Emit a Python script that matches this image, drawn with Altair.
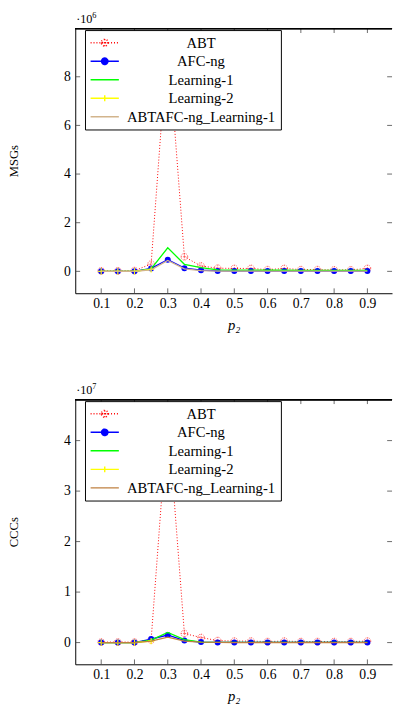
import altair as alt
import pandas as pd

# ---------------- data ----------------
x_vals = [0.1, 0.15, 0.2, 0.25, 0.3, 0.35, 0.4, 0.45, 0.5, 0.55, 0.6, 0.65, 0.7, 0.75, 0.8, 0.85, 0.9]
series_names = ["ABT", "AFC-ng", "Learning-1", "Learning-2", "ABTAFC-ng_Learning-1"]

# MSGs (raw counts)
msg_abt = [20000, 20000, 30000, 300000, 9600000, 600000, 220000, 130000, 120000, 120000,
           70000, 120000, 70000, 70000, 60000, 60000, 120000]
msg_afc = [0, 0, 0, 120000, 480000, 130000, 50000, 15000, 10000, 10000,
           10000, 10000, 10000, 10000, 10000, 10000, 10000]
msg_l1 = [0, 0, 0, 100000, 970000, 290000, 150000, 60000, 50000, 50000,
          45000, 45000, 40000, 40000, 40000, 40000, 40000]
msg_l2 = [0, 0, 0, 80000]
msg_combo = [0, 0, 0, 60000, 450000, 100000, 30000, 10000, 5000, 5000,
             5000, 5000, 5000, 5000, 5000, 5000, 5000]

# CCCs (raw counts)
ccc_abt = [100000, 100000, 100000, 500000, 45000000, 1800000, 1000000, 400000, 300000, 300000,
           200000, 300000, 200000, 200000, 200000, 200000, 300000]
ccc_afc = [0, 0, 0, 700000, 1500000, 400000, 100000, 20000, 20000, 20000,
           20000, 20000, 20000, 20000, 20000, 20000, 20000]
ccc_l1 = [0, 0, 0, 500000, 2000000, 600000, 100000, 50000, 40000, 40000,
          40000, 40000, 40000, 40000, 40000, 40000, 40000]
ccc_l2 = [0, 0, 0, 300000]
ccc_combo = [0, 0, 0, 300000, 1100000, 300000, 100000, 20000, 10000, 10000,
             10000, 10000, 10000, 10000, 10000, 10000, 10000]

x_ticks = [0.1, 0.2, 0.3, 0.4, 0.5, 0.6, 0.7, 0.8, 0.9]
msg_ticks = [0, 2000000, 4000000, 6000000, 8000000]
ccc_ticks = [0, 10000000, 20000000, 30000000, 40000000]

# ---------------- style ----------------
FONT = "Liberation Serif"
W, H = 325, 272
XDOM = [0.022, 0.974]
RED, BLUE, GREEN, YELLOW = "#ff0000", "#0000ff", "#00ff00", "#ffff00"
TICK = "#444444"


def circ(cx, r):
    k = 0.5523 * r
    return (f"M{cx + r},0C{cx + r},{k} {cx + k},{r} {cx},{r}"
            f"C{cx - k},{r} {cx - r},{k} {cx - r},0"
            f"C{cx - r},{-k} {cx - k},{-r} {cx},{-r}"
            f"C{cx + k},{-r} {cx + r},{-k} {cx + r},0Z")


LINE = "M-1,0L3,0"
legend_paths = [
    LINE + circ(1, 0.48) + "M0.52,0L1.48,0M1,-0.48L1,0.48",
    LINE + circ(1, 0.45) + circ(1, 0.32) + circ(1, 0.19) + circ(1, 0.07),
    LINE,
    LINE + "M1,-0.42L1,0.42",
    LINE,
]
legend_dash = [[1, 2], [1, 0], [1, 0], [1, 0], [1, 0]]

ABT_MARK = circ(0, 1) + "M-1,0L1,0M0,-1L0,1"
PLUS_MARK = "M-1,0L1,0M0,-1L0,1"


def panel(data, ydom, yticks, ytitle, divisor, exp_txt, combo_color):
    xs = alt.Scale(domain=XDOM, nice=False, zero=False)
    ys = alt.Scale(domain=ydom, nice=False, zero=False)
    fr = {n: pd.DataFrame({"p2": x_vals[:len(v)], "v": v}) for n, v in zip(series_names, data)}

    xa = alt.Axis(values=x_ticks, format=".1f", title="p₂", ticks=False, tickSize=0,
                  domainColor="black", domainWidth=1, labelFont=FONT, labelFontSize=14,
                  labelColor="black", labelPadding=4, titleFont=FONT, titleFontSize=15,
                  titleFontStyle="italic", titleFontWeight="normal", titleColor="black",
                  titlePadding=7, grid=False)
    ya = alt.Axis(values=yticks, labelExpr=f"datum.value / {divisor}", title=ytitle,
                  ticks=False, tickSize=0, domainColor="black", domainWidth=1,
                  labelFont=FONT, labelFontSize=14, labelColor="black", labelPadding=5,
                  titleFont=FONT, titleFontSize=13, titleFontWeight="normal",
                  titleColor="black", titlePadding=44, grid=False)
    X = alt.X("p2:Q", scale=xs, axis=xa)
    Y = alt.Y("v:Q", scale=ys, axis=ya)

    def xy(ch):
        return ch.encode(x=X, y=Y)

    layers = [
        xy(alt.Chart(fr["ABT"]).mark_line(color=RED, strokeDash=[1, 2], strokeWidth=1)),
        xy(alt.Chart(fr["ABT"]).mark_point(shape=ABT_MARK, filled=False, color=RED, size=49,
                                           strokeWidth=0.7, strokeDash=[1, 1], opacity=0.8)),
        xy(alt.Chart(fr["AFC-ng"]).mark_line(color=BLUE, strokeWidth=1.3)),
        xy(alt.Chart(fr["AFC-ng"]).mark_point(shape="circle", filled=True, color=BLUE,
                                              size=38, opacity=1)),
        xy(alt.Chart(fr["Learning-1"]).mark_line(color=GREEN, strokeWidth=1.3)),
        xy(alt.Chart(fr["Learning-2"]).mark_line(color=YELLOW, strokeWidth=1.3)),
        xy(alt.Chart(fr["Learning-2"]).mark_point(shape=PLUS_MARK, filled=False, color=YELLOW,
                                                  size=40, strokeWidth=1.2, opacity=1)),
        xy(alt.Chart(fr["ABTAFC-ng_Learning-1"]).mark_line(color=combo_color, strokeWidth=1.3)),
    ]

    xt = pd.DataFrame({"p2": x_ticks})
    yt = pd.DataFrame({"v": yticks})
    layers += [
        alt.Chart(xt).mark_rule(color=TICK, strokeWidth=0.8).encode(x=X, y=alt.value(H), y2=alt.value(H - 5)),
        alt.Chart(xt).mark_rule(color=TICK, strokeWidth=0.8).encode(x=X, y=alt.value(0), y2=alt.value(5)),
        alt.Chart(yt).mark_rule(color=TICK, strokeWidth=0.8).encode(y=Y, x=alt.value(0), x2=alt.value(5)),
        alt.Chart(yt).mark_rule(color=TICK, strokeWidth=0.8).encode(y=Y, x=alt.value(W), x2=alt.value(W - 5)),
        alt.Chart(xt).mark_rule(color="black", strokeWidth=1).encode(
            x=alt.value(0), x2=alt.value(W), y=alt.value(0.5)),
        alt.Chart(pd.DataFrame({"t": ["·10"]})).mark_text(
            align="left", baseline="alphabetic", font=FONT, fontSize=12.5, color="black"
        ).encode(text="t:N", x=alt.value(1), y=alt.value(-5)),
        alt.Chart(pd.DataFrame({"t": [exp_txt]})).mark_text(
            align="left", baseline="alphabetic", font=FONT, fontSize=8.5, color="black"
        ).encode(text="t:N", x=alt.value(17.5), y=alt.value(-10)),
    ]

    colors = [RED, BLUE, GREEN, YELLOW, combo_color]
    leg = alt.Legend(title=None, orient="none", legendX=10, legendY=2, labelAlign="center",
                     labelOffset=98, zindex=1)
    carrier = alt.Chart(pd.DataFrame({"series": series_names})).transform_filter("false").mark_point(
        filled=False, opacity=1
    ).encode(
        color=alt.Color("series:N", scale=alt.Scale(domain=series_names, range=colors), legend=leg),
        shape=alt.Shape("series:N", scale=alt.Scale(domain=series_names, range=legend_paths), legend=leg),
        strokeDash=alt.StrokeDash("series:N", scale=alt.Scale(domain=series_names, range=legend_dash), legend=leg),
    )
    layers.append(carrier)
    return alt.layer(*layers).properties(width=W, height=H)


top = panel([msg_abt, msg_afc, msg_l1, msg_l2, msg_combo], [-900000, 10000000], msg_ticks,
            "MSGs", 1000000, "6", "#d2b48c")
bottom = panel([ccc_abt, ccc_afc, ccc_l1, ccc_l2, ccc_combo], [-4300000, 48200000], ccc_ticks,
               "CCCs", 10000000, "7", "#bf8040")

chart = alt.vconcat(top, bottom, spacing=108.7, bounds="flush").resolve_scale(
    color="independent", shape="independent", strokeDash="independent"
).resolve_legend(
    color="independent", shape="independent", strokeDash="independent"
).properties(
    padding={"left": 0, "top": -5.5, "right": 0, "bottom": 0}
).configure_view(stroke=None).configure_legend(
    padding=5, strokeColor="black", fillColor="white", labelFont=FONT, labelFontSize=15,
    labelColor="black", symbolSize=210, symbolStrokeWidth=1.5, rowPadding=3.0,
    labelLimit=300, cornerRadius=0
)

chart.save("out.html", embed_options={"renderer": "svg", "actions": False})
